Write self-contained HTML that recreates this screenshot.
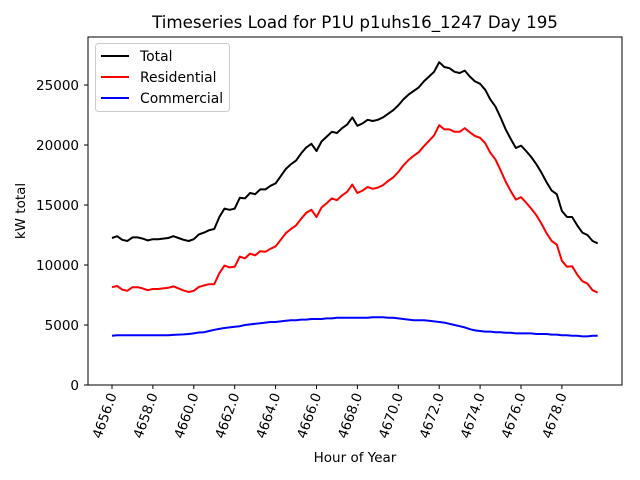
<!DOCTYPE html>
<html><head><meta charset="utf-8"><style>
body{margin:0;background:#fff}
svg{display:block;font-family:"DejaVu Sans","Liberation Sans",sans-serif}
</style></head><body>
<svg id="chart" width="640" height="480" viewBox="0 0 640 480">
<rect width="640" height="480" fill="#fff"/>
<text x="355" y="28" font-size="16.7" text-anchor="middle">Timeseries Load for P1U p1uhs16_1247  Day 195</text>
<g id="series"></g>
<rect x="88" y="37" width="534" height="348" fill="none" stroke="#000" stroke-width="1"/>
<g id="axes"></g>
<text x="355" y="462" font-size="13.5" text-anchor="middle">Hour of Year</text>
<text transform="translate(25,211) rotate(-90)" font-size="13.5" text-anchor="middle">kW total</text>
<g>
<rect x="95.5" y="43.5" width="134" height="68" rx="3" fill="#fff" fill-opacity="0.8" stroke="#ccc"/>
<g><line x1="101" y1="56" x2="129" y2="56" stroke="#000" stroke-width="2"/><text x="140" y="61" font-size="13.9">Total</text></g>
<g><line x1="101" y1="77" x2="129" y2="77" stroke="red" stroke-width="2"/><text x="140" y="82" font-size="13.9">Residential</text></g>
<g><line x1="101" y1="98" x2="129" y2="98" stroke="blue" stroke-width="2"/><text x="140" y="103" font-size="13.9">Commercial</text></g>
</g>
</svg>
<script>
const startHour = 4656;
const stepHours = 0.25;
const xTicks = [4656,4658,4660,4662,4664,4666,4668,4670,4672,4674,4676,4678];
const yTicks = [0,5000,10000,15000,20000,25000];
const totalValues = [12250,12400,12100,12000,12300,12300,12200,12050,12150,12150,12200,12250,
12400,12250,12100,12000,12150,12550,12700,12900,13000,14000,14700,14600,
14700,15600,15550,16000,15900,16300,16300,16600,16800,17400,18000,18400,
18700,19300,19800,20100,19500,20300,20700,21100,21000,21400,21700,22300,
21600,21800,22100,22000,22100,22300,22600,22900,23300,23800,24200,24500,
24800,25300,25700,26100,26900,26500,26400,26100,26000,26200,25700,25300,
25100,24600,23800,23200,22300,21300,20500,19750,19950,19500,19000,18400,
17700,16900,16200,15900,14500,14000,14000,13300,12700,12500,12000,11800];
const residentialValues = [8150,8250,7950,7850,8150,8150,8050,7900,8000,8000,8050,8100,
8220,8050,7880,7750,7850,8170,8300,8400,8400,9320,9950,9800,
9850,10700,10550,10950,10800,11150,11100,11350,11550,12100,12650,13000,
13300,13850,14350,14600,14000,14800,15150,15550,15400,15800,16100,16700,
16000,16200,16500,16350,16450,16650,17000,17300,17750,18300,18750,19100,
19400,19900,20350,20800,21650,21300,21300,21100,21100,21400,21050,20750,
20600,20150,19350,18800,17900,16950,16150,15450,15650,15200,14700,14150,
13450,12650,12000,11700,10350,9850,9900,9200,8650,8450,7900,7700];
const commercialValues = [4100,4150,4150,4150,4150,4150,4150,4150,4150,4150,4150,4150,
4180,4200,4220,4250,4300,4380,4400,4500,4600,4680,4750,4800,
4850,4900,5000,5050,5100,5150,5200,5250,5250,5300,5350,5400,
5400,5450,5450,5500,5500,5500,5550,5550,5600,5600,5600,5600,
5600,5600,5600,5650,5650,5650,5600,5600,5550,5500,5450,5400,
5400,5400,5350,5300,5250,5200,5100,5000,4900,4800,4650,4550,
4500,4450,4450,4400,4400,4350,4350,4300,4300,4300,4300,4250,
4250,4250,4200,4200,4150,4150,4100,4100,4050,4050,4100,4100];

const NS = "http://www.w3.org/2000/svg";
function xScale(h){ return 112 + (h - 4656) * 20.45; }
function yScale(v){ return 385 - v * 60 / 5000; }

const axes = document.getElementById('axes');
xTicks.forEach(t => {
  const x = xScale(t);
  const l = document.createElementNS(NS,'line');
  l.setAttribute('x1',x); l.setAttribute('x2',x); l.setAttribute('y1',385); l.setAttribute('y2',389);
  l.setAttribute('stroke','#000');
  
  
  axes.appendChild(l);
  const tx = document.createElementNS(NS,'text');
  tx.setAttribute('transform','translate('+(x+5)+',395) rotate(-70)');
  tx.setAttribute('font-size','13.5');
  tx.setAttribute('text-anchor','end');
  tx.textContent = t.toFixed(1);
  
  
  axes.appendChild(tx);
});
yTicks.forEach(t => {
  const y = yScale(t);
  const l = document.createElementNS(NS,'line');
  l.setAttribute('x1',84); l.setAttribute('x2',88); l.setAttribute('y1',y); l.setAttribute('y2',y);
  l.setAttribute('stroke','#000');
  
  
  axes.appendChild(l);
  const tx = document.createElementNS(NS,'text');
  tx.setAttribute('x',79); tx.setAttribute('y',y+5);
  tx.setAttribute('font-size','13.5');
  tx.setAttribute('text-anchor','end');
  tx.textContent = t;
  
  
  axes.appendChild(tx);
});

const seriesG = document.getElementById('series');
function drawSeries(vals, color, name){
  const pts = vals.map((v,i) => xScale(startHour + i*stepHours).toFixed(2)+','+yScale(v).toFixed(2)).join(' ');
  const p = document.createElementNS(NS,'polyline');
  p.setAttribute('points',pts);
  p.setAttribute('fill','none');
  p.setAttribute('stroke',color);
  p.setAttribute('stroke-width','2');
  p.setAttribute('stroke-linejoin','round');
  
  
  seriesG.appendChild(p);
}
drawSeries(totalValues,'#000','total-line');
drawSeries(residentialValues,'red','residential-line');
drawSeries(commercialValues,'blue','commercial-line');
</script>
</body></html>
